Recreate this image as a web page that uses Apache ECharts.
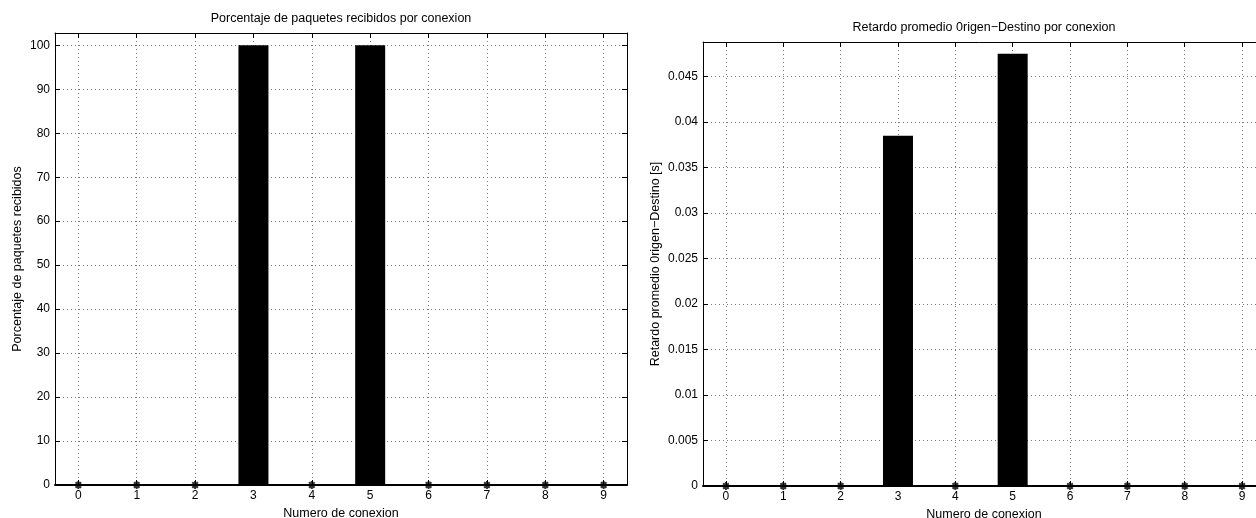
<!DOCTYPE html>
<html>
<head>
<meta charset="utf-8">
<script src="https://cdn.jsdelivr.net/npm/echarts@6/dist/echarts.min.js"></script>
<style>html,body{margin:0;padding:0;background:#fff}#c{width:1256px;height:518px}</style>
</head>
<body>
<div id="c"></div>
<script>
var conexiones = [0, 1, 2, 3, 4, 5, 6, 7, 8, 9];
var porcentaje = [0, 0, 0, 100, 0, 100, 0, 0, 0, 0];
var retardo = [0, 0, 0, 0.0385, 0, 0.0475, 0, 0, 0, 0];

var FONT = "'Liberation Sans', Arial, Helvetica, sans-serif";
var chart = echarts.init(document.getElementById('c'), null, {renderer: 'canvas'});
var dotted = {show: true, showMinLine: false, showMaxLine: false, lineStyle: {color: '#777', type: [1, 3], width: 1}};
var star = 'path://M5,0L5,10M0,5L10,5M1.5,1.5L8.5,8.5M8.5,1.5L1.5,8.5';

function xAxes(g) {
  return [{
    type: 'value', gridIndex: g, position: 'bottom', min: -0.4, max: 9.4, splitNumber: 10,
    name: 'Numero de conexion', nameLocation: 'middle', nameGap: 19,
    nameTextStyle: {color: '#000', fontFamily: FONT, fontSize: 12.5},
    axisLine: {show: true, onZero: false, lineStyle: {color: '#000', width: 2}},
    axisTick: {show: true, inside: true, length: 5, lineStyle: {color: '#000'}},
    axisLabel: {color: '#000', fontFamily: FONT, fontSize: 12, margin: 5,
      formatter: function (v) { return Math.abs(v - Math.round(v)) < 1e-6 ? String(Math.round(v)) : ''; }},
    splitLine: dotted
  }, {
    type: 'value', gridIndex: g, position: 'top', min: -0.4, max: 9.4, splitNumber: 10,
    axisLine: {show: true, onZero: false, lineStyle: {color: '#000', width: 1}},
    axisTick: {show: true, inside: true, length: 5, lineStyle: {color: '#000'}},
    axisLabel: {show: false}, splitLine: {show: false}
  }];
}
function yAxes(g, max, interval, name, gap, fmt) {
  return [{
    type: 'value', gridIndex: g, position: 'left', min: 0, max: max, interval: interval,
    name: name, nameLocation: 'middle', nameGap: gap,
    nameTextStyle: {color: '#000', fontFamily: FONT, fontSize: 12.5},
    axisLine: {show: true, onZero: false, lineStyle: {color: '#000', width: 1}},
    axisTick: {show: true, inside: true, length: 5, lineStyle: {color: '#000'}},
    axisLabel: {color: '#000', fontFamily: FONT, fontSize: 12, margin: 5, showMaxLabel: false, formatter: fmt},
    splitLine: dotted
  }, {
    type: 'value', gridIndex: g, position: 'right', min: 0, max: max, interval: interval,
    axisLine: {show: true, onZero: false, lineStyle: {color: '#000', width: 1}},
    axisTick: {show: true, inside: true, length: 5, lineStyle: {color: '#000'}},
    axisLabel: {show: false}, splitLine: {show: false}
  }];
}
function pairs(vals) { return conexiones.map(function (c, i) { return [c, vals[i]]; }); }
function zeros(vals) { return conexiones.map(function (c, i) { return [c, vals[i]]; }).filter(function (p) { return p[1] === 0; }); }

var option = {
  animation: false,
  title: [
    {text: 'Porcentaje de paquetes recibidos por conexion', left: 341, top: 12, textAlign: 'center', padding: 0,
     textStyle: {color: '#000', fontWeight: 'normal', fontFamily: FONT, fontSize: 12.5}},
    {text: 'Retardo promedio 0rigen\u2212Destino por conexion', left: 984, top: 21, textAlign: 'center', padding: 0,
     textStyle: {color: '#000', fontWeight: 'normal', fontFamily: FONT, fontSize: 12.5}}
  ],
  grid: [
    {left: 55, top: 33, width: 572, height: 452, containLabel: false, outerBoundsMode: 'none'},
    {left: 703, top: 42, width: 562, height: 444, containLabel: false, outerBoundsMode: 'none'}
  ],
  xAxis: xAxes(0).concat(xAxes(1)),
  yAxis: yAxes(0, 102.8, 10, 'Porcentaje de paquetes recibidos', 31, function (v) { return String(Math.round(v)); })
    .concat(yAxes(1, 0.0488, 0.005, 'Retardo promedio 0rigen\u2212Destino [s]', 41, function (v) { return String(+v.toFixed(4)); })),
  series: [
    {type: 'bar', xAxisIndex: 0, yAxisIndex: 0, data: pairs(porcentaje), barWidth: 30, itemStyle: {color: '#000'}},
    {type: 'scatter', xAxisIndex: 0, yAxisIndex: 0, data: zeros(porcentaje), symbol: star, symbolSize: 8,
     itemStyle: {color: '#000', borderColor: '#000', borderWidth: 2}, z: 5},
    {type: 'bar', xAxisIndex: 2, yAxisIndex: 2, data: pairs(retardo), barWidth: 30, itemStyle: {color: '#000'}},
    {type: 'scatter', xAxisIndex: 2, yAxisIndex: 2, data: zeros(retardo), symbol: star, symbolSize: 8,
     itemStyle: {color: '#000', borderColor: '#000', borderWidth: 2}, z: 5}
  ]
};
chart.setOption(option);
</script>
</body>
</html>
